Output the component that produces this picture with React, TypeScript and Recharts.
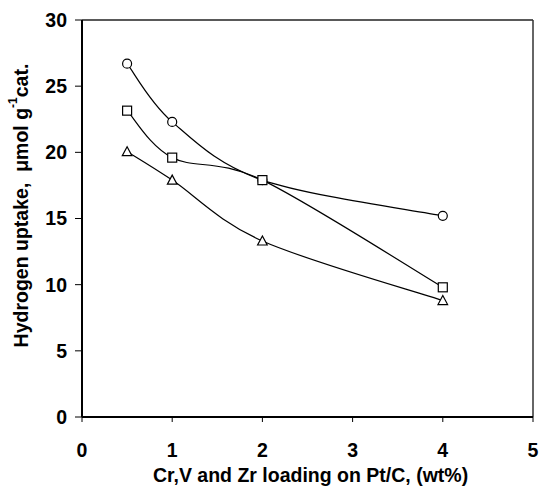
import React from "react";
import { LineChart, Line, XAxis, YAxis, ReferenceLine } from "recharts";

const loading = [0.5, 1, 2, 4];
const circleSeries = [26.7, 22.3, 17.9, 15.2];
const squareSeries = [23.15, 19.6, 17.9, 9.8];
const triangleSeries = [20.05, 17.9, 13.3, 8.8];
const xTicks = [0, 1, 2, 3, 4, 5];
const yTicks = [0, 5, 10, 15, 20, 25, 30];

const data = loading.map((x, i) => ({
  x,
  circle: circleSeries[i],
  square: squareSeries[i],
  triangle: triangleSeries[i],
}));

const FONT = "'Liberation Sans', Arial, sans-serif";
const FS = 19.5;
const TITLE_FS = 19.5;

// Catmull-Rom style smoothing (end points duplicated), used as a curve factory.
const smoothCurve: any = (context: any) => {
  let pts: [number, number][] = [];
  return {
    areaStart() {},
    areaEnd() {},
    lineStart() {
      pts = [];
    },
    point(x: number, y: number) {
      pts.push([+x, +y]);
    },
    lineEnd() {
      if (pts.length === 0) return;
      context.moveTo(pts[0][0], pts[0][1]);
      for (let i = 0; i < pts.length - 1; i++) {
        const p0 = pts[Math.max(i - 1, 0)];
        const p1 = pts[i];
        const p2 = pts[i + 1];
        const p3 = pts[Math.min(i + 2, pts.length - 1)];
        const c1x = p1[0] + (p2[0] - p0[0]) / 6;
        const c1y = p1[1] + (p2[1] - p0[1]) / 6;
        const c2x = p2[0] - (p3[0] - p1[0]) / 6;
        const c2y = p2[1] - (p3[1] - p1[1]) / 6;
        context.bezierCurveTo(c1x, c1y, c2x, c2y, p2[0], p2[1]);
      }
    },
  };
};

const CircleDot = (props: any) => {
  const { cx, cy } = props;
  if (cx == null || cy == null) return null;
  return <circle cx={cx} cy={cy} r={4.5} fill="#fff" stroke="#000" strokeWidth={1.2} />;
};

const SquareDot = (props: any) => {
  const { cx, cy } = props;
  if (cx == null || cy == null) return null;
  return <rect x={cx - 4.5} y={cy - 4.5} width={9} height={9} fill="#fff" stroke="#000" strokeWidth={1.2} />;
};

const TriangleDot = (props: any) => {
  const { cx, cy } = props;
  if (cx == null || cy == null) return null;
  const h = 8;
  return (
    <polygon
      points={`${cx},${cy - h / 2 - 1} ${cx - 4.8},${cy + h / 2} ${cx + 4.8},${cy + h / 2}`}
      fill="#fff"
      stroke="#000"
      strokeWidth={1.2}
    />
  );
};

const YTitle = (props: any) => {
  const vb = props.viewBox || {};
  const cx = 21;
  const cy = vb.y + vb.height / 2 - 13;
  return (
    <text
      x={cx}
      y={cy}
      transform={`rotate(-90, ${cx}, ${cy})`}
      textAnchor="middle"
      dominantBaseline="central"
      fontFamily={FONT}
      fontWeight="bold"
      fontSize={TITLE_FS}
      fill="#000"
      style={{ whiteSpace: "pre" }}
    >
      {"Hydrogen uptake,  \u03bcmol g"}
      <tspan fontSize={12} dy={-8}>-1</tspan>
      <tspan dy={8}>cat.</tspan>
    </text>
  );
};

const XTitle = (props: any) => {
  const vb = props.viewBox || {};
  const cx = vb.x + vb.width / 2 + 3;
  return (
    <text
      x={cx}
      y={482}
      textAnchor="middle"
      fontFamily={FONT}
      fontWeight="bold"
      fontSize={TITLE_FS}
      fill="#000"
    >
      Cr,V and Zr loading on Pt/C, (wt%)
    </text>
  );
};

export default function App() {
  return (
    <div style={{ position: "absolute", left: 0, top: 0, width: 541, height: 487, background: "#fff" }}>
      <LineChart
        width={541}
        height={487}
        data={data}
        margin={{ top: 20, right: 8, bottom: 0, left: 0 }}
      >
        <XAxis
          dataKey="x"
          type="number"
          domain={[0, 5]}
          ticks={xTicks}
          stroke="#000"
          strokeWidth={2}
          tickSize={5}
          tickLine={{ stroke: "#000", strokeWidth: 1 }}
          tick={{ fill: "#000", fontSize: FS, fontWeight: "bold", fontFamily: FONT, dy: 19 }}
          label={<XTitle />}
          height={70}
        />
        <YAxis
          type="number"
          domain={[0, 30]}
          ticks={yTicks}
          stroke="#000"
          strokeWidth={2}
          tickSize={7}
          tickLine={{ stroke: "#000", strokeWidth: 1 }}
          tick={{ fill: "#000", fontSize: FS, fontWeight: "bold", fontFamily: FONT, dx: -6 }}
          width={82}
          label={<YTitle />}
        />
        <ReferenceLine y={30} stroke="#222" strokeWidth={1.5} />
        <ReferenceLine x={5} stroke="#333" strokeWidth={1.5} />
        <Line
          type={smoothCurve}
          dataKey="circle"
          stroke="#000"
          strokeWidth={1.2}
          dot={<CircleDot />}
          isAnimationActive={false}
        />
        <Line
          type={smoothCurve}
          dataKey="square"
          stroke="#000"
          strokeWidth={1.2}
          dot={<SquareDot />}
          isAnimationActive={false}
        />
        <Line
          type={smoothCurve}
          dataKey="triangle"
          stroke="#000"
          strokeWidth={1.2}
          dot={<TriangleDot />}
          isAnimationActive={false}
        />
      </LineChart>
    </div>
  );
}
